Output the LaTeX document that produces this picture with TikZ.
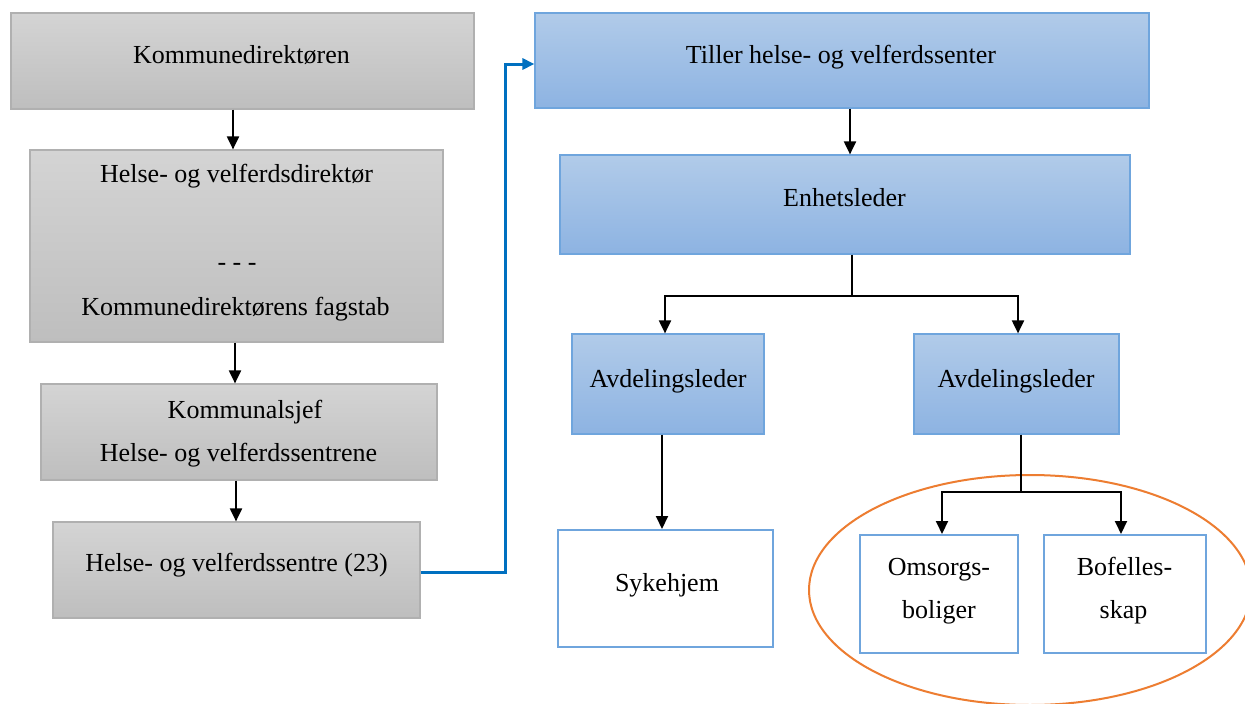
\documentclass[tikz,border=0pt]{standalone}
\usepackage{fontspec}
\setmainfont{Liberation Serif}
\usetikzlibrary{arrows.meta}
\definecolor{grayTop}{HTML}{D4D4D4}
\definecolor{grayBot}{HTML}{BEBEBE}
\definecolor{grayEdge}{HTML}{B0B0B0}
\definecolor{blueTop}{HTML}{B1CBE9}
\definecolor{blueBot}{HTML}{8DB3E2}
\definecolor{blueEdge}{HTML}{6FA5DD}
\definecolor{linkBlue}{HTML}{0070C0}
\definecolor{ringOrange}{HTML}{ED7D31}
\begin{document}
\begin{tikzpicture}[x=1pt,y=-1pt,
  graybox/.style={draw=grayEdge, line width=1.2pt, top color=grayTop, bottom color=grayBot, inner sep=0pt},
  bluebox/.style={draw=blueEdge, line width=1.2pt, top color=blueTop, bottom color=blueBot, inner sep=0pt},
  whitebox/.style={draw=blueEdge, line width=2pt, fill=white, inner sep=0pt},
  lbl/.style={font=\fontsize{26}{31}\selectfont, inner sep=0pt, anchor=base},
  conn/.style={line width=2pt, black, -{Triangle[length=13pt,width=12pt]}},
  bridge/.style={line width=3pt, linkBlue, -{Triangle[length=12pt,width=11pt]}}]

\useasboundingbox[fill=white] (0,0) rectangle (1245,704);

% group of residential units
\draw[ringOrange, line width=2pt] (1030,590) ellipse [x radius=221pt, y radius=115pt];

% municipal chain (left)
\node[graybox, minimum width=463pt, minimum height=96pt] (k1) at (242.5,61) {};
\node[graybox, minimum width=413pt, minimum height=192pt] (k2) at (236.5,246) {};
\node[graybox, minimum width=396pt, minimum height=96pt] (k3) at (239,432) {};
\node[graybox, minimum width=367pt, minimum height=96pt] (k4) at (236.5,570) {};

\node[lbl] (k1t) at (241.5,63) {Kommunedirektøren};
\node[lbl] (k2a) at (236.5,182) {Helse- og velferdsdirektør};
\node[lbl] (k2b) at (237,270) {- - -};
\node[lbl] (k2c) at (235.5,315) {Kommunedirektørens fagstab};
\node[lbl] (k3a) at (245,418) {Kommunalsjef};
\node[lbl] (k3b) at (238.5,461) {Helse- og velferdssentrene};
\node[lbl] (k4t) at (236.5,571) {Helse- og velferdssentre (23)};

% centre organisation (right)
\node[bluebox, minimum width=614pt, minimum height=95pt] (c1) at (842,60.5) {};
\node[bluebox, minimum width=570pt, minimum height=99pt] (c2) at (845,204.5) {};
\node[bluebox, minimum width=192pt, minimum height=100pt] (a1) at (668,384) {};
\node[bluebox, minimum width=205pt, minimum height=100pt] (a2) at (1016.5,384) {};
\node[whitebox, minimum width=215pt, minimum height=117pt] (s1) at (665.5,588.5) {};
\node[whitebox, minimum width=158pt, minimum height=118pt] (o1) at (939,594) {};
\node[whitebox, minimum width=162pt, minimum height=118pt] (b1) at (1125,594) {};

\node[lbl] (c1t) at (841,63) {Tiller helse- og velferdssenter};
\node[lbl] (c2t) at (844.5,206) {Enhetsleder};
\node[lbl] (a1t) at (668,387) {Avdelingsleder};
\node[lbl] (a2t) at (1016,387) {Avdelingsleder};
\node[lbl] (s1t) at (667,591) {Sykehjem};
\node[lbl] (o1a) at (939,575) {Omsorgs-};
\node[lbl] (o1b) at (939,618) {boliger};
\node[lbl] (b1a) at (1124.5,575) {Bofelles-};
\node[lbl] (b1b) at (1123.5,618) {skap};

% connectors
\draw[conn] (k1.south -| 233,0) -- (k2.north -| 233,0);
\draw[conn] (k2.south -| 235,0) -- (k3.north -| 235,0);
\draw[conn] (k3.south -| 236,0) -- (k4.north -| 236,0);

\draw[bridge] (k4.east |- 0,572) -- (505,572) |- (c1.west |- 0,64);

\draw[conn] (c1.south -| 850,0) -- (c2.north -| 850,0);
\draw[conn] (c2.south -| 852,0) -- (852,296) -| (a1.north -| 665,0);
\draw[conn] (852,296) -| (a2.north -| 1018,0);

\draw[conn] (a1.south -| 662,0) -- (s1.north -| 662,0);
\draw[conn] (a2.south -| 1021,0) -- (1021,492) -| (o1.north -| 942,0);
\draw[conn] (1021,492) -| (b1.north -| 1121,0);
\end{tikzpicture}
\end{document}
